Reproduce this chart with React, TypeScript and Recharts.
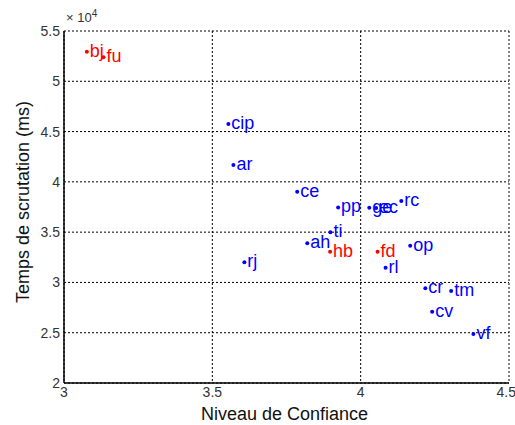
import { ScatterChart, Scatter, XAxis, YAxis, CartesianGrid, ReferenceLine } from 'recharts'

// points de référence (rouge) et autres (bleu); y en ms
const redNames = ['bj', 'fu', 'hb', 'fd']
const redX = [3.077, 3.133, 3.897, 4.057]
const redY = [52930, 52380, 33050, 33050]

const blueNames = ['cip', 'ar', 'ce', 'pp', 'ge', 'ec', 'rc', 'ti', 'ah', 'op', 'rj', 'rl', 'cr', 'tm', 'cv', 'vf']
const blueX = [3.554, 3.571, 3.786, 3.924, 4.029, 4.052, 4.137, 3.898, 3.82, 4.167, 3.608, 4.084, 4.218, 4.305, 4.241, 4.38]
const blueY = [45750, 41670, 39020, 37460, 37430, 37400, 38090, 34980, 33890, 33650, 32000, 31460, 29410, 29150, 27090, 24870]

const xTicks = [3, 3.5, 4, 4.5]
const yTicks = [20000, 25000, 30000, 35000, 40000, 45000, 50000, 55000]

const toRows = (names: string[], xs: number[], ys: number[]) =>
  names.map((name, i) => ({ name, x: xs[i], y: ys[i] }))

const redData = toRows(redNames, redX, redY)
const blueData = toRows(blueNames, blueX, blueY)

const FONT = '"Liberation Sans", Arial, sans-serif'

function makeDot(color: string) {
  return (props: any) => {
    const { cx, cy, payload } = props
    return (
      <g>
        <circle cx={cx} cy={cy} r={2} fill={color} />
        <text x={cx + 3} y={cy + 5} fill={color} fontSize={18} fontFamily={FONT}>
          {payload.name}
        </text>
      </g>
    )
  }
}

const xLabel = (props: any) => {
  const vb = props.viewBox
  return (
    <text x={vb.x + vb.width / 2 - 2} y={420} textAnchor="middle" fill="#111" fontSize={18} fontFamily={FONT}>
      Niveau de Confiance
    </text>
  )
}

const yLabel = () => (
  <text
    x={0}
    y={0}
    transform="translate(29, 202) rotate(-90)"
    textAnchor="middle"
    fill="#111"
    fontSize={18}
    fontFamily={FONT}
  >
    Temps de scrutation (ms)
  </text>
)

export default function App() {
  return (
    <div style={{ position: 'absolute', left: 0, top: 0, width: 515, height: 425, background: '#fff' }}>
      <ScatterChart width={515} height={425} margin={{ top: 31, right: 6, bottom: 12, left: 34 }}>
        <CartesianGrid stroke="#000" strokeDasharray="2 2" strokeWidth={1} />
        <XAxis
          type="number"
          dataKey="x"
          domain={[3, 4.5]}
          ticks={xTicks}
          allowDataOverflow
          height={30}
          stroke="#000"
          tickLine={false}
          tickSize={3}
          tickMargin={1}
          tick={{ fill: '#333', fontSize: 14, fontFamily: FONT }}
          label={{ content: xLabel }}
        />
        <YAxis
          type="number"
          dataKey="y"
          domain={[20000, 55000]}
          ticks={yTicks}
          allowDataOverflow
          width={30}
          stroke="#000"
          tickLine={false}
          tickSize={3}
          tickMargin={1}
          tickFormatter={(v: number) => String(v / 10000)}
          tick={{ fill: '#333', fontSize: 14, fontFamily: FONT }}
          label={{ content: yLabel }}
        />
        <ReferenceLine x={3} stroke="#000" />
        <ReferenceLine y={20000} stroke="#000" />
        <Scatter data={blueData} fill="#0000ff" shape={makeDot('#0000ff')} isAnimationActive={false} />
        <Scatter data={redData} fill="#ff0000" shape={makeDot('#ff0000')} isAnimationActive={false} />
      </ScatterChart>
      <div style={{ position: 'absolute', left: 66, top: 8, fontSize: 13, fontFamily: FONT, color: '#333' }}>
        × 10<sup style={{ fontSize: 10 }}>4</sup>
      </div>
    </div>
  )
}
